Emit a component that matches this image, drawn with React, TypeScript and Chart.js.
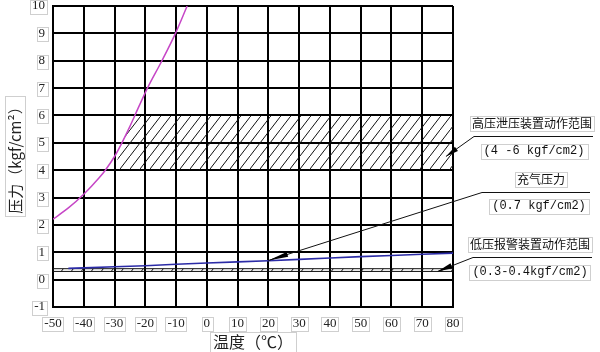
import React, { useEffect, useRef } from "react";
import { Chart, registerables } from "chart.js";

Chart.register(...registerables);

// ---- axis ranges / ticks ----
const tempMin = -50;
const tempMax = 80;
const tempStep = 10;
const pressureMin = -1;
const pressureMax = 10;
const pressureStep = 1;

// ---- magenta curve (vapour pressure) ----
const curveTemps = [-50, -45, -40, -35, -33, -30, -27.6, -25, -23.4, -19.3, -14.6, -10.2, -6.4];
const curvePressures = [2.21, 2.62, 3.12, 3.72, 4.0, 4.5, 5.0, 5.6, 6.0, 7.0, 8.0, 9.0, 10.0];

// ---- blue line (charge pressure) ----
const chargeTemps = [-45, -40, -30, -20, -10, 0, 10, 20, 30, 40, 50, 60, 70, 80];
const chargePressures = [0.41, 0.43, 0.47, 0.51, 0.56, 0.61, 0.65, 0.69, 0.74, 0.79, 0.84, 0.88, 0.93, 0.97];

// ---- hatched bands ----
const highBandTemps = [-30, -27.6, -23.4, 80, 80];
const highBandPressures = [4, 5, 6, 6, 4];
const lowBandTemps = [-50, 80, 80, -50];
const lowBandPressures = [0.3, 0.3, 0.4, 0.4];

// ---- annotations ----
const noteTitles = ["高压泄压装置动作范围", "充气压力", "低压报警装置动作范围"];
const noteRanges = ["(4 -6 kgf/cm2)", "(0.7 kgf/cm2)", "(0.3-0.4kgf/cm2)"];
const noteTargetTemps = [77.7, 20, 75];
const noteTargetPressures = [4.5, 0.7, 0.3];

const xTitle = "温度（℃）";
const yTitle = "压力（kgf/cm²）";

const CJK = '"Noto Sans CJK SC", sans-serif';
const NUM = '"Liberation Serif", serif';
const MONO = '"Liberation Mono", monospace';
const BOX = "#cfcfcf";

// layout of the annotation texts (pixels, right of the plot)
const NOTE_LAYOUT = [
  { tx: 532, ty: 123, ux1: 474, ux2: 593, uy: 136, sx: 534, sy: 151, head: 13 },
  { tx: 541, ty: 179, ux1: 482, ux2: 590, uy: 192, sx: 539, sy: 206, head: 20 },
  { tx: 530, ty: 244, ux1: 473, ux2: 592, uy: 257, sx: 530, sy: 272, head: 15 },
];

function makeHatch(ctx: CanvasRenderingContext2D): CanvasPattern | string {
  const c = document.createElement("canvas");
  c.width = 10;
  c.height = 13;
  const g = c.getContext("2d");
  if (!g) return "rgba(0,0,0,0.2)";
  g.strokeStyle = "#111";
  g.lineWidth = 1;
  g.beginPath();
  g.moveTo(-1, 14.3);
  g.lineTo(11, -1.3);
  g.stroke();
  return ctx.createPattern(c, "repeat") || "rgba(0,0,0,0.2)";
}

function strokeBox(ctx: CanvasRenderingContext2D, cx: number, cy: number, w: number, h: number) {
  ctx.strokeRect(Math.round(cx - w / 2) + 0.5, Math.round(cy - h / 2) + 0.5, Math.round(w), Math.round(h));
}

const bandsPlugin = {
  id: "bands",
  beforeDatasetsDraw(chart: any) {
    const { ctx, chartArea, scales } = chart;
    const x = scales.x;
    const y = scales.y;
    ctx.save();
    ctx.beginPath();
    ctx.rect(chartArea.left, chartArea.top, chartArea.right - chartArea.left, chartArea.bottom - chartArea.top);
    ctx.clip();
    const poly = (xs: number[], ys: number[]) => {
      ctx.beginPath();
      xs.forEach((v, i) => {
        const px = x.getPixelForValue(v);
        const py = y.getPixelForValue(ys[i]);
        if (i === 0) ctx.moveTo(px, py);
        else ctx.lineTo(px, py);
      });
      ctx.closePath();
    };
    ctx.fillStyle = makeHatch(ctx);
    poly(highBandTemps, highBandPressures);
    ctx.fill();
    poly(lowBandTemps, lowBandPressures);
    ctx.fill();
    ctx.strokeStyle = "#111";
    ctx.lineWidth = 1;
    ctx.stroke();
    ctx.restore();
  },
  afterDraw(chart: any) {
    const { ctx, scales } = chart;
    const x = scales.x;
    const y = scales.y;
    ctx.save();
    ctx.lineWidth = 1;
    ctx.strokeStyle = BOX;

    // boxes around tick labels
    ctx.font = `13px ${NUM}`;
    y.ticks.forEach((t: any, i: number) => {
      const w = ctx.measureText(String(t.label)).width;
      const py = y.getPixelForTick(i);
      strokeBox(ctx, 45 - w / 2, py + 1, w + 4, 14);
    });
    x.ticks.forEach((t: any, i: number) => {
      const w = ctx.measureText(String(t.label)).width;
      const px = x.getPixelForTick(i);
      strokeBox(ctx, px, 323.5, w + 4, 14);
    });
    // boxes around axis titles
    ctx.font = `16px ${CJK}`;
    const xw = ctx.measureText(xTitle).width;
    strokeBox(ctx, (x.left + x.right) / 2, 342, xw + 6, 20);
    ctx.font = `15px ${CJK}`;
    const yw = ctx.measureText(yTitle).width;
    strokeBox(ctx, 15, (y.top + y.bottom) / 2, 20, yw + 6);

    // annotations
    NOTE_LAYOUT.forEach((L, i) => {
      ctx.font = `12px ${CJK}`;
      ctx.fillStyle = "#111";
      ctx.textAlign = "center";
      ctx.textBaseline = "middle";
      const tw = ctx.measureText(noteTitles[i]).width;
      ctx.fillText(noteTitles[i], L.tx, L.ty);
      ctx.strokeStyle = BOX;
      strokeBox(ctx, L.tx, L.ty, tw + 4, 15);

      ctx.font = `12px ${MONO}`;
      const sw = ctx.measureText(noteRanges[i]).width;
      ctx.fillText(noteRanges[i], L.sx, L.sy);
      strokeBox(ctx, L.sx, L.sy, sw + 6, 15);

      // underline
      ctx.strokeStyle = "#111";
      ctx.beginPath();
      ctx.moveTo(L.ux1, L.uy + 0.5);
      ctx.lineTo(L.ux2, L.uy + 0.5);
      ctx.stroke();

      // leader with arrow head
      const tipX = x.getPixelForValue(noteTargetTemps[i]);
      const tipY = y.getPixelForValue(noteTargetPressures[i]);
      ctx.beginPath();
      ctx.moveTo(L.ux1, L.uy + 0.5);
      ctx.lineTo(tipX, tipY);
      ctx.stroke();
      const dx = L.ux1 - tipX;
      const dy = L.uy - tipY;
      const len = Math.hypot(dx, dy);
      const ux = dx / len;
      const uy = dy / len;
      const bx = tipX + ux * L.head;
      const by = tipY + uy * L.head;
      const hw = 2.6;
      ctx.fillStyle = "#000";
      ctx.beginPath();
      ctx.moveTo(tipX, tipY);
      ctx.lineTo(bx - uy * hw, by + ux * hw);
      ctx.lineTo(bx + uy * hw, by - ux * hw);
      ctx.closePath();
      ctx.fill();
    });
    ctx.restore();
  },
};

export default function App() {
  const canvasRef = useRef<HTMLCanvasElement | null>(null);

  useEffect(() => {
    const canvas = canvasRef.current;
    if (!canvas) return;
    const chart = new Chart(canvas, {
      type: "line",
      data: {
        datasets: [
          {
            label: "饱和压力",
            data: curveTemps.map((t, i) => ({ x: t, y: curvePressures[i] })),
            borderColor: "#c646c6",
            borderWidth: 1.5,
            pointRadius: 0,
            fill: false,
            cubicInterpolationMode: "monotone",
          },
          {
            label: "充气压力",
            data: chargeTemps.map((t, i) => ({ x: t, y: chargePressures[i] })),
            borderColor: "#2b2ba6",
            borderWidth: 1.6,
            pointRadius: 0,
            fill: false,
            tension: 0,
          },
        ],
      },
      options: {
        animation: false,
        responsive: false,
        devicePixelRatio: 1,
        layout: { padding: { left: 0, top: 6, right: 147, bottom: 0 } },
        plugins: { legend: { display: false }, tooltip: { enabled: false } },
        scales: {
          x: {
            type: "linear",
            min: tempMin,
            max: tempMax,
            ticks: {
              stepSize: tempStep,
              autoSkip: false,
              maxRotation: 0,
              padding: 9,
              color: "#222",
              font: { family: NUM, size: 13 },
            },
            grid: { color: "#000", lineWidth: 2, drawTicks: false },
            border: { color: "#000", width: 2 },
            title: {
              display: true,
              text: xTitle,
              color: "#222",
              font: { family: CJK, size: 16 },
              padding: { top: 0, bottom: 0 },
            },
            afterFit: (s: any) => {
              s.height = 45;
              s.paddingLeft = 0;
              s.paddingRight = 0;
            },
          },
          y: {
            type: "linear",
            min: pressureMin,
            max: pressureMax,
            ticks: {
              stepSize: pressureStep,
              autoSkip: false,
              padding: 8,
              color: "#222",
              font: { family: NUM, size: 13 },
            },
            grid: { color: "#000", lineWidth: 2, drawTicks: false },
            border: { color: "#000", width: 2 },
            title: {
              display: true,
              text: yTitle,
              color: "#222",
              font: { family: CJK, size: 15 },
              padding: { top: 6, bottom: 0 },
            },
            afterFit: (s: any) => {
              s.width = 53;
              s.paddingTop = 0;
              s.paddingBottom = 0;
            },
          },
        },
      } as any,
      plugins: [bandsPlugin],
    });
    return () => chart.destroy();
  }, []);

  return (
    <div style={{ position: "absolute", left: 0, top: 0, width: 600, height: 352, background: "#fff" }}>
      <canvas ref={canvasRef} width={600} height={352} style={{ display: "block" }} />
    </div>
  );
}
